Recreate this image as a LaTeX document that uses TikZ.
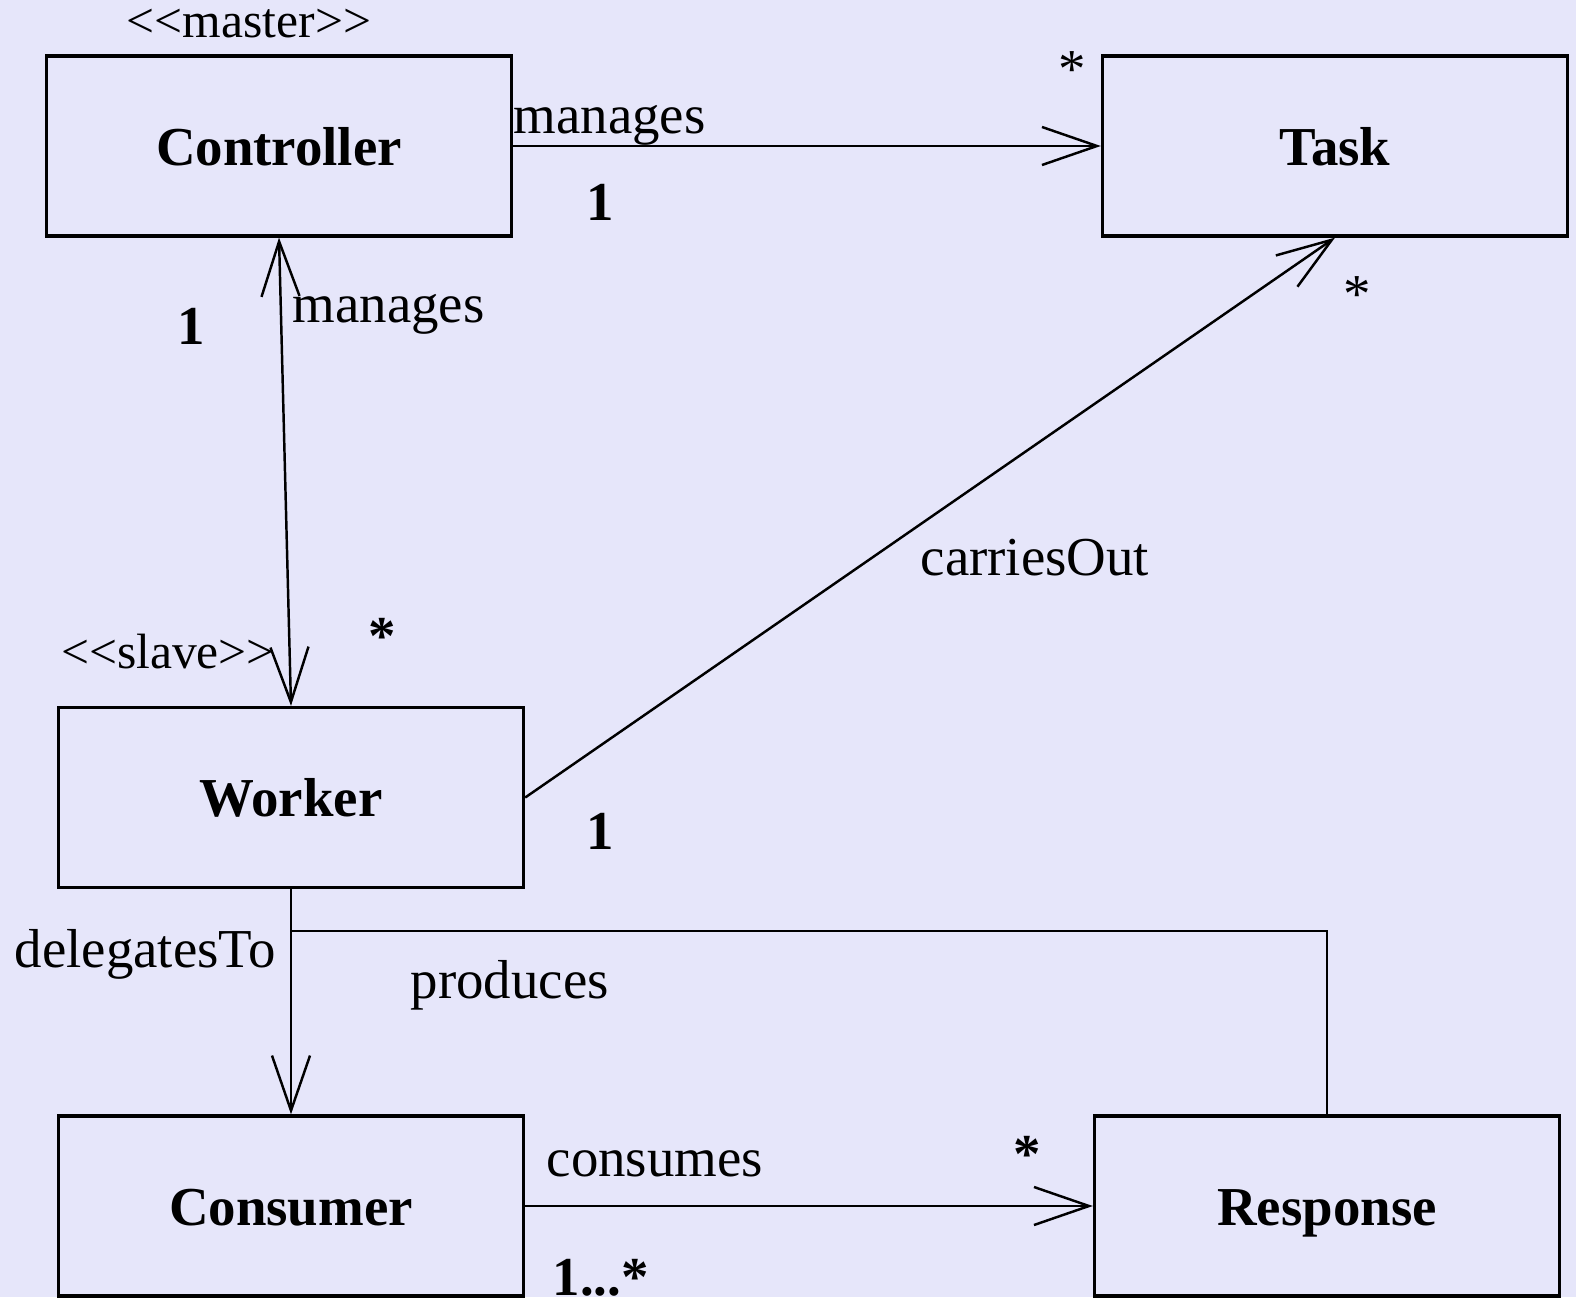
\documentclass[tikz,border=0pt]{standalone}
\usepackage{fontspec}
\setmainfont{Liberation Serif}
\usetikzlibrary{arrows.meta,calc}

\definecolor{lavenderbg}{RGB}{230,230,250}

\begin{document}
\begin{tikzpicture}[x=0.01cm, y=-0.01cm, font=\fontsize{15.6}{18}\selectfont,
    classbox/.style={draw, line width=0.9pt, minimum width=4.65cm, minimum height=1.8cm,
        inner sep=0pt, font=\fontsize{15.6}{18}\selectfont\bfseries, text height=1.1em, text depth=0pt},
    assoc/.style={line width=0.7pt},
    navarrow/.style={assoc, -{Straight Barb[length=5.5mm, width=3.8mm]}},
    bothways/.style={assoc, {Straight Barb[length=5.5mm, width=3.8mm]}-{Straight Barb[length=5.5mm, width=3.8mm]}},
    lbl/.style={inner sep=0pt, anchor=base west},
    lblc/.style={inner sep=0pt, anchor=base},
    stereo/.style={inner sep=0pt, anchor=base, font=\fontsize{14.1}{17}\selectfont},
    mult/.style={inner sep=0pt, anchor=base, font=\fontsize{15.6}{18}\selectfont\bfseries}]

    % Background
    \fill[lavenderbg] (0,0) rectangle (1576,1297);
    \useasboundingbox (0,0) rectangle (1576,1297);

    % Classes
    \node[classbox] (controller) at (279,146) {Controller};
    \node[classbox] (task) at (1335,146) {Task};
    \node[classbox] (worker) at (291,797.5) {Worker};
    \node[classbox] (consumer) at (291,1206) {Consumer};
    \node[classbox] (response) at (1327,1206) {Response};

    % Stereotypes
    \node[stereo] (master) at (249,38) {<{}<master>{}>};
    \node[stereo] (slave) at (168,668) {<{}<slave>{}>};

    % Associations
    \draw[navarrow] (controller.east) -- (task.west);
    \draw[bothways] (controller.south) -- (worker.north);
    \draw[navarrow] (worker.east) -- (task.south);
    \draw[navarrow] (worker.south) -- (consumer.north);
    \coordinate (split) at ($(worker.south)+(0,42)$);
    \draw[assoc] (split) -| (response.north);
    \draw[navarrow] (consumer.east) -- (response.west);

    % Role names
    \node[lbl] (mgtask) at (513,134) {manages};
    \node[lbl] (mgworker) at (292,322) {manages};
    \node[lbl] (carries) at (920,575) {carriesOut};
    \node[lbl] (delegates) at (14,967) {delegatesTo};
    \node[lbl] (produces) at (410,998) {produces};
    \node[lbl] (consumes) at (546,1176) {consumes};

    % Multiplicities
    \node[mult] (m1) at (600,221) {1};
    \node[lblc] (m2) at (1072,88) {*};
    \node[mult] (m3) at (191,344) {1};
    \node[mult] (m4) at (382,654) {*};
    \node[mult] (m5) at (600,849) {1};
    \node[lblc] (m6) at (1357,312) {*};
    \node[mult] (m7) at (1027,1172) {*};
    \node[mult, anchor=base west] (m8) at (552,1295) {1...*};

\end{tikzpicture}
\end{document}
